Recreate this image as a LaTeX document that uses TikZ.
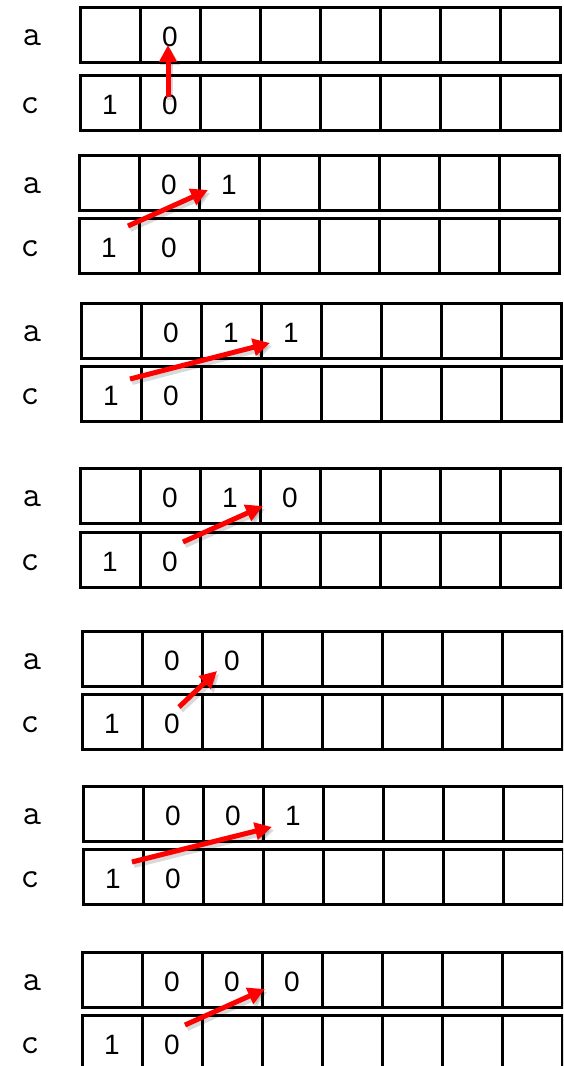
\documentclass[tikz,border=0pt]{standalone}
\usepackage{fontspec}
\setmainfont{Liberation Sans}
\usetikzlibrary{arrows.meta}
\tikzset{
  cell/.style={draw, line width=3pt, minimum width=60pt, minimum height=55pt, inner sep=0pt, outer sep=0pt},
  dig/.style={font=\fontsize{28}{28}\selectfont, inner sep=0pt},
  lab/.style={font=\ttfamily\fontsize{36}{36}\selectfont, inner sep=0pt},
  move/.style={draw=red, line width=5pt, -{Triangle[length=17pt,width=17pt]}},
  shade/.style={draw=black, opacity=0.15, line width=6pt, -{Triangle[length=17pt,width=19pt]}}
}
\newcommand\mypanel[4]{%
  \foreach \i in {1,...,8} {
    \node[cell] (#1a\i) at ({#2+30+60*(\i-1)}, #3) {};
    \node[cell] (#1c\i) at ({#2+30+60*(\i-1)}, #4) {};
  }
  \node[lab] (#1la) at (32,#3+3) {a};
  \node[lab] (#1lc) at (30,#4+3) {c};
  \node[dig] (#1v1) at ([yshift=-2pt]#1c1.center) {1};
  \node[dig] (#1v2) at ([yshift=-2pt]#1c2.center) {0};
  \node[dig] (#1v3) at ([yshift=-2pt]#1a2.center) {0};
}
\newcommand\myarrow[3]{% name, start, end
  \coordinate (#1s) at #2;
  \coordinate (#1e) at #3;
  \draw[shade] ([shift={(2pt,-3pt)}]#1s) -- ([shift={(2pt,-3pt)}]#1e);
  \draw[move] (#1s) -- (#1e);
}
\begin{document}
\begin{tikzpicture}[x=1pt, y=-1pt]
  \clip (0,0) rectangle (563,1066);
  \fill[white] (0,0) rectangle (563,1066);
  % panel 1
  \mypanel{p1}{80}{35}{102.5}
  % panel 2
  \mypanel{p2}{79}{182.5}{245.5}
  \node[dig] (p2x3) at ([yshift=-2pt]p2a3.center) {1};
  % panel 3
  \mypanel{p3}{81}{330.5}{393.5}
  \node[dig] (p3x3) at ([yshift=-2pt]p3a3.center) {1};
  \node[dig] (p3x4) at ([yshift=-2pt]p3a4.center) {1};
  % panel 4
  \mypanel{p4}{80}{495.5}{559.5}
  \node[dig] (p4x3) at ([yshift=-2pt]p4a3.center) {1};
  \node[dig] (p4x4) at ([yshift=-2pt]p4a4.center) {0};
  % panel 5
  \mypanel{p5}{82}{659}{721.5}
  \node[dig] (p5x3) at ([yshift=-2pt]p5a3.center) {0};
  % panel 6
  \mypanel{p6}{83}{813.5}{877}
  \node[dig] (p6x3) at ([yshift=-2pt]p6a3.center) {0};
  \node[dig] (p6x4) at ([yshift=-2pt]p6a4.center) {1};
  % panel 7
  \mypanel{p7}{82}{979.5}{1042.5}
  \node[dig] (p7x3) at ([yshift=-2pt]p7a3.center) {0};
  \node[dig] (p7x4) at ([yshift=-2pt]p7a4.center) {0};
  % arrows
  \myarrow{r1}{(168,97)}{(168,45)}
  \myarrow{r2}{(128,226)}{(208,190)}
  \myarrow{r3}{(130,379)}{(270,343)}
  \myarrow{r4}{(183,542)}{(263,506)}
  \myarrow{r5}{(179,707)}{(217,671)}
  \myarrow{r6}{(132,862)}{(272,827)}
  \myarrow{r7}{(185,1025)}{(265,989)}
\end{tikzpicture}
\end{document}
